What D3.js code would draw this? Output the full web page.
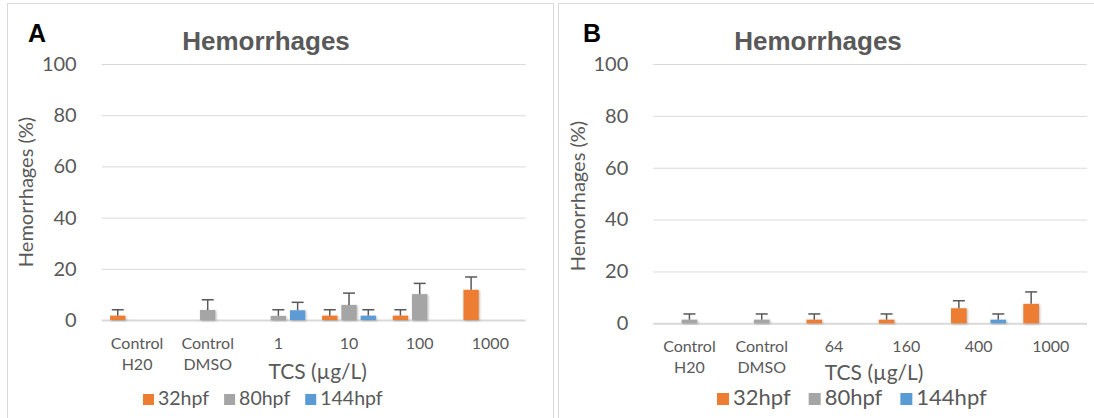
<!DOCTYPE html>
<html>
<head>
<meta charset="utf-8">
<script src="https://cdn.jsdelivr.net/npm/d3@7"></script>
<style>
  html, body { margin: 0; padding: 0; background: #fff; }
  svg { display: block; }
</style>
</head>
<body>
<svg id="chart" width="1094" height="418"></svg>
<script>
// ---------------- DATA ----------------
const seriesNames = ["32hpf", "80hpf", "144hpf"];
const seriesColors = ["#ED7D31", "#A5A5A5", "#5B9BD5"];
const yTicks = [0, 20, 40, 60, 80, 100];

// Panel A
const categoriesA = ["Control\nH20", "Control\nDMSO", "1", "10", "100", "1000"];
const a32 = [1.7, null, null, 1.7, 1.7, 11.8];
const a80 = [null, 3.9, 1.6, 5.9, 10.1, null];
const a144 = [null, null, 3.8, 1.7, null, null];
const a32Err = [2.3, null, null, 2.3, 2.3, 5.0];
const a80Err = [null, 4.0, 2.4, 4.6, 4.2, null];
const a144Err = [null, null, 3.1, 2.3, null, null];

// Panel B
const categoriesB = ["Control\nH20", "Control\nDMSO", "64", "160", "400", "1000"];
const b32 = [null, null, 1.4, 1.4, 5.8, 7.5];
const b80 = [1.4, 1.4, null, null, null, null];
const b144 = [null, null, null, null, 1.4, null];
const b32Err = [null, null, 2.2, 2.2, 2.9, 4.6];
const b80Err = [2.2, 2.2, null, null, null, null];
const b144Err = [null, null, null, null, 2.2, null];

const chartTitle = "Hemorrhages";
const yTitle = "Hemorrhages (%)";
const xTitle = "TCS (\u00b5g/L)";

// ---------------- DRAW ----------------
const svg = d3.select("#chart");
const FONT = "Lato, 'Open Sans', sans-serif";
const TXT = "#595959";

const defs = svg.append("defs");
const f = defs.append("filter").attr("id", "shadow").attr("x", "-30%").attr("y", "-30%").attr("width", "160%").attr("height", "160%");
f.append("feDropShadow").attr("dx", 0.8).attr("dy", 0.8).attr("stdDeviation", 1.2).attr("flood-color", "#000").attr("flood-opacity", 0.3);

function drawPanel(p) {
  const g = svg.append("g");
  // frame
  g.append("rect").attr("x", p.frame[0] + 0.5).attr("y", p.frame[1] + 0.5)
    .attr("width", p.frame[2]).attr("height", p.frame[3])
    .attr("fill", "#fff").attr("stroke", "#D9D9D9").attr("stroke-width", 1);

  const x = d3.scaleBand().domain(p.categories).range([p.x0, p.x1]).paddingInner(0).paddingOuter(0);
  const xs = d3.scaleBand().domain(seriesNames).range([0, x.bandwidth()]).paddingInner(0.205).paddingOuter(0.436);
  const y = d3.scaleLinear().domain([0, 100]).range([p.yBottom, p.yTop]);

  // gridlines + y labels via axis
  const yAxis = d3.axisLeft(y).tickValues(yTicks).tickSize(-(p.x1 - p.x0)).tickPadding(25);
  const ya = g.append("g").attr("transform", `translate(${p.x0},0)`).call(yAxis);
  ya.select(".domain").remove();
  ya.selectAll(".tick line").attr("stroke", "#D9D9D9").attr("stroke-width", 1);
  ya.selectAll(".tick").filter(d => d === 0).select("line").attr("stroke-width", 2);
  ya.selectAll(".tick text").attr("font-family", FONT).attr("font-size", 20).attr("fill", TXT);

  // bars
  const series = p.values.map((vals, si) => ({ name: seriesNames[si], color: seriesColors[si], vals, errs: p.errors[si] }));
  series.forEach(s => {
    const items = p.categories.map((c, i) => ({ c, v: s.vals[i], e: s.errs[i] })).filter(d => d.v != null);
    g.append("g").selectAll("rect").data(items).join("rect")
      .attr("x", d => x(d.c) + xs(s.name))
      .attr("width", xs.bandwidth())
      .attr("y", d => y(d.v))
      .attr("height", d => y(0) - y(d.v))
      .attr("fill", s.color)
      .attr("filter", "url(#shadow)");
    const eg = g.append("g").attr("stroke", "#595959").attr("stroke-width", 1.5);
    items.forEach(d => {
      const cx = x(d.c) + xs(s.name) + xs.bandwidth() / 2;
      eg.append("line").attr("x1", cx).attr("x2", cx).attr("y1", y(d.v)).attr("y2", y(d.v + d.e));
      eg.append("line").attr("x1", cx - 6).attr("x2", cx + 6).attr("y1", y(d.v + d.e)).attr("y2", y(d.v + d.e));
    });
  });

  // category labels
  const cl = g.append("g");
  p.categories.forEach(c => {
    const lines = c.split("\n");
    const t = cl.append("text").attr("text-anchor", "middle").attr("font-family", FONT)
      .attr("font-size", 16).attr("fill", TXT);
    lines.forEach((ln, i) => {
      t.append("tspan").attr("x", x(c) + x.bandwidth() / 2).attr("y", y(0) + 29 + i * 21).text(ln);
    });
  });

  // x title
  g.append("text").attr("x", (p.x0 + p.x1) / 2 + 4).attr("y", p.xTitleY)
    .attr("text-anchor", "middle").attr("font-family", FONT).attr("font-size", 21).attr("fill", TXT).text(xTitle);

  // y title
  g.append("text").attr("transform", `translate(${p.yTitleX},${p.yTitleY}) rotate(-90)`)
    .attr("text-anchor", "middle").attr("font-family", FONT).attr("font-size", 20).attr("fill", TXT).text(yTitle);

  // chart title
  g.append("text").attr("x", p.titleX).attr("y", 50).attr("text-anchor", "middle")
    .attr("font-family", "'Liberation Sans', Arial, sans-serif").attr("font-weight", "bold")
    .attr("font-size", 26).attr("fill", TXT).text(chartTitle);

  // panel letter
  g.append("text").attr("x", p.letterX).attr("y", 42)
    .attr("font-family", "'Liberation Sans', Arial, sans-serif").attr("font-weight", "bold")
    .attr("font-size", 25).attr("fill", "#000").text(p.letter);

  // legend
  const lg = g.append("g");
  let lx = p.legendX;
  const sq = p.legendSquare;
  seriesNames.forEach((n, i) => {
    lg.append("rect").attr("x", lx).attr("y", p.legendY - sq).attr("width", sq).attr("height", sq).attr("fill", seriesColors[i]);
    const t = lg.append("text").attr("x", lx + sq + 4).attr("y", p.legendY).attr("font-family", FONT)
      .attr("font-size", p.legendFont).attr("fill", TXT).text(n);
    lx += sq + 4 + t.node().getComputedTextLength() + p.legendGap;
  });
}

drawPanel({
  letter: "A", letterX: 28, titleX: 266,
  frame: [7, 3, 546, 430],
  x0: 101.7, x1: 525.7, yTop: 64, yBottom: 320,
  categories: categoriesA,
  values: [a32, a80, a144], errors: [a32Err, a80Err, a144Err],
  xTitleY: 379, yTitleX: 33, yTitleY: 192,
  legendX: 143, legendY: 405, legendSquare: 11, legendFont: 19.5, legendGap: 15
});

drawPanel({
  letter: "B", letterX: 583, titleX: 818,
  frame: [558, 3, 546, 430],
  x0: 653.3, x1: 1087, yTop: 64, yBottom: 323.3,
  categories: categoriesB,
  values: [b32, b80, b144], errors: [b32Err, b80Err, b144Err],
  xTitleY: 380, yTitleX: 585, yTitleY: 196,
  legendX: 717, legendY: 405, legendSquare: 12, legendFont: 22, legendGap: 18
});
</script>
</body>
</html>
